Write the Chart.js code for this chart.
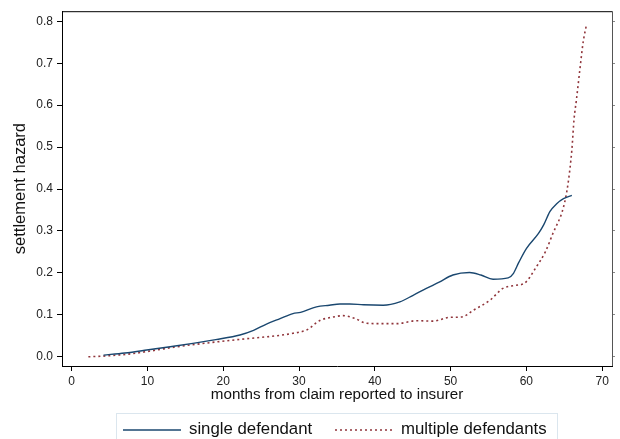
<!DOCTYPE html>
<html>
<head>
<meta charset="utf-8">
<script src="https://cdn.jsdelivr.net/npm/chart.js@4"></script>
<style>
  body { margin: 0; background: #fff; font-family: "Liberation Sans", Arial, sans-serif; }
  #wrap { position: relative; width: 620px; height: 439px; overflow: hidden; }
  #legend {
    position: absolute; left: 116px; top: 413px; width: 440px; height: 32px;
    border: 1px solid #dbe6ee; font-size: 16.8px; color: #111;
  }
  .item { position: absolute; top: 5px; white-space: nowrap; }
  .item svg { vertical-align: middle; margin-right: 8px; }
</style>
</head>
<body>
<div id="wrap">
  <canvas id="resultPlot" width="620" height="439"></canvas>
  <div id="legend">
    <div class="item" style="left:6px"><svg width="58" height="4"><line x1="0" y1="2" x2="58" y2="2" stroke="#1a476f" stroke-width="1.5"/></svg>single defendant</div>
    <div class="item" style="left:218px"><svg width="58" height="4"><line x1="0" y1="2" x2="58" y2="2" stroke="#90353b" stroke-width="1.5" stroke-dasharray="2 3"/></svg>multiple defendants</div>
  </div>
</div>
<script>
// values
let singleMonths = [4.2, 7, 9.9, 13, 16, 19, 22.2, 24, 25.7, 27.5, 29.2, 30.2, 32.3, 34, 35.4, 36.7, 38.5, 41.1, 43.3, 45, 46.8, 48.5, 50.3, 52.5, 54, 55.6, 57.6, 58.3, 59, 60, 61.6, 62.3, 63.1, 64, 64.9, 66];
let singleHazard = [0.004, 0.009, 0.016, 0.024, 0.032, 0.041, 0.052, 0.063, 0.078, 0.091, 0.103, 0.106, 0.119, 0.123, 0.126, 0.126, 0.124, 0.123, 0.131, 0.146, 0.163, 0.178, 0.195, 0.201, 0.195, 0.185, 0.188, 0.199, 0.225, 0.258, 0.294, 0.315, 0.346, 0.365, 0.377, 0.385];
let multiMonths = [2.2, 4.5, 7.3, 10.5, 13.9, 17, 20.4, 22.5, 24.8, 27, 29.2, 31, 32.8, 34.3, 35.8, 37.3, 38.9, 40.5, 42.9, 45.5, 47.7, 49.9, 51.5, 53, 55.2, 56.9, 58.5, 59.8, 61.3, 62.5, 63.5, 64.9, 65.5, 66, 66.3, 66.6, 67.1, 67.5, 67.9];
let multiHazard = [0.0, 0.002, 0.006, 0.014, 0.024, 0.031, 0.038, 0.042, 0.046, 0.05, 0.056, 0.064, 0.087, 0.094, 0.098, 0.092, 0.080, 0.079, 0.079, 0.086, 0.085, 0.094, 0.095, 0.111, 0.135, 0.163, 0.170, 0.176, 0.214, 0.25, 0.294, 0.357, 0.413, 0.493, 0.568, 0.612, 0.691, 0.751, 0.789];
let xTicks = [0, 10, 20, 30, 40, 50, 60, 70];
let yTicks = [0, 0.1, 0.2, 0.3, 0.4, 0.5, 0.6, 0.7, 0.8];
let legends = ['single defendant', 'multiple defendants'];

function toPoints(xs, ys) {
    let pts = [];
    for (let i = 0; i < xs.length; i++) {
        pts.push({x: xs[i], y: ys[i]});
    }
    return pts;
}

function setTicks(list) {
    return function(scale) {
        scale.ticks = list.map(function(v) { return {value: v}; });
    };
}

// top and right edges of the plot frame
let framePlugin = {
    id: 'frame',
    afterDraw: function(chart) {
        let a = chart.chartArea;
        let ctx = chart.ctx;
        ctx.save();
        ctx.lineWidth = 1;
        ctx.strokeStyle = '#000';
        ctx.beginPath();
        ctx.moveTo(a.left, a.top + 0.5);
        ctx.lineTo(a.right, a.top + 0.5);
        ctx.stroke();
        ctx.strokeStyle = '#555';
        ctx.beginPath();
        ctx.moveTo(a.right + 0.5, a.top);
        ctx.lineTo(a.right + 0.5, a.bottom);
        ctx.stroke();
        ctx.restore();
    }
};

let tickFont = {family: '"Liberation Sans", Arial, sans-serif', size: 12};
let titleFont = {family: '"Liberation Sans", Arial, sans-serif', size: 15.2};
let yTitleFont = {family: '"Liberation Sans", Arial, sans-serif', size: 16.5};

let chartObject = {
    type: 'line',
    data: {
        datasets: [
            {
                label: legends[0],
                data: toPoints(singleMonths, singleHazard),
                borderColor: '#1a476f',
                borderWidth: 1.4,
                pointRadius: 0,
                cubicInterpolationMode: 'monotone',
                fill: false
            },
            {
                label: legends[1],
                data: toPoints(multiMonths, multiHazard),
                borderColor: '#90353b',
                borderWidth: 1.6,
                borderDash: [2, 3],
                pointRadius: 0,
                cubicInterpolationMode: 'monotone',
                fill: false
            }
        ]
    },
    options: {
        responsive: false,
        animation: false,
        layout: {padding: {left: 0, right: 0, top: 11, bottom: 35}},
        plugins: {legend: {display: false}, tooltip: {enabled: false}},
        scales: {
            x: {
                type: 'linear',
                min: -1.28,
                max: 71.3,
                afterBuildTicks: setTicks(xTicks),
                afterFit: function(scale) { scale.height = 38; },
                grid: {drawOnChartArea: false, drawTicks: true, tickLength: 5, color: '#000'},
                border: {color: '#000', width: 1},
                ticks: {font: tickFont, color: '#222', padding: 3, maxRotation: 0},
                title: {display: true, text: 'months from claim reported to insurer', font: titleFont, color: '#111', padding: {top: 0, bottom: 0}}
            },
            y: {
                min: -0.022,
                max: 0.824,
                afterBuildTicks: setTicks(yTicks),
                afterFit: function(scale) { scale.width = 62; },
                grid: {drawOnChartArea: false, drawTicks: true, tickLength: 5, color: '#000'},
                border: {color: '#000', width: 1},
                ticks: {font: tickFont, color: '#222', padding: 4, callback: function(v) { return v.toFixed(1); }},
                title: {display: true, text: 'settlement hazard', font: yTitleFont, color: '#111', padding: {top: 10.5, bottom: 0}}
            },
            y2: {
                position: 'right',
                min: -0.022,
                max: 0.824,
                afterBuildTicks: setTicks(yTicks),
                afterFit: function(scale) { scale.width = 8; },
                grid: {drawOnChartArea: false, drawTicks: true, tickLength: 3, color: '#888'},
                border: {display: false},
                ticks: {display: false}
            }
        }
    },
    plugins: [framePlugin]
};

let plotArea = document.getElementById('resultPlot');
let linePlot = new Chart(plotArea, chartObject);
</script>
</body>
</html>
